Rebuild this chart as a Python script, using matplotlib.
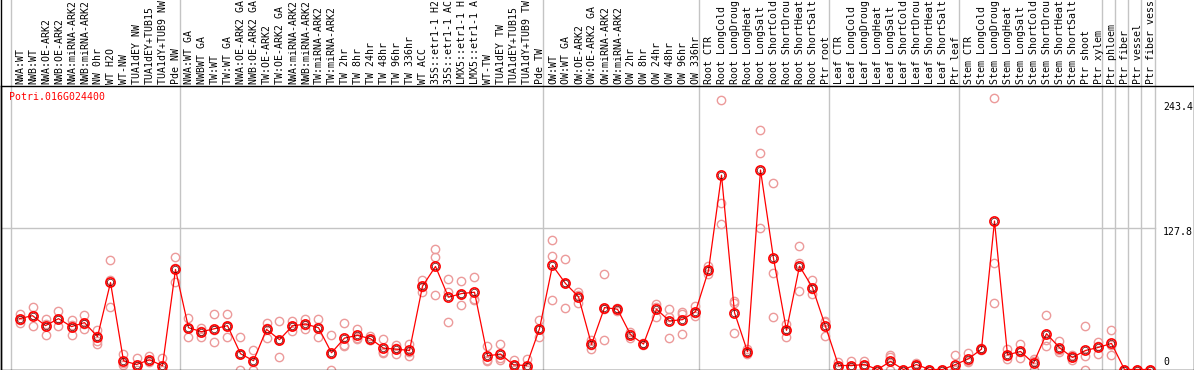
import matplotlib
matplotlib.use('Agg')
import matplotlib.pyplot as plt
from matplotlib import transforms

# ---------------- data ----------------
title = "Potri.016G024400"

labels_nw = ["NWA:WT", "NWB:WT", "NWA:OE-ARK2", "NWB:OE-ARK2", "NWA:miRNA-ARK2",
             "NWB:miRNA-ARK2", "NW 0hr", "WT H2O", "WT-NW", "TUA1dEY NW",
             "TUA1dEY+TUB15 NW", "TUA1dY+TUB9 NW", "Pde NW"]
labels_tw = ["NWA:WT GA", "NWBWT GA", "TW:WT", "TW:WT GA", "NWA:OE-ARK2 GA",
             "NWB:OE-ARK2 GA", "TW:OE-ARK2", "TW:OE-ARK2 GA", "NWA:miRNA-ARK2 GA",
             "NWB:miRNA-ARK2 GA", "TW:miRNA-ARK2", "TW:miRNA-ARK2 GA", "TW 2hr",
             "TW 8hr", "TW 24hr", "TW 48hr", "TW 96hr", "TW 336hr", "WT ACC",
             "35S::etr1-1 H2O", "35S::etr1-1 ACC", "LMX5::etr1-1 H2O",
             "LMX5::etr1-1 ACC", "WT-TW", "TUA1dEY TW", "TUA1dEY+TUB15 TW",
             "TUA1dY+TUB9 TW", "Pde TW"]
labels_ow = ["OW:WT", "OW:WT GA", "OW:OE-ARK2", "OW:OE-ARK2 GA", "OW:miRNA-ARK2",
             "OW:miRNA-ARK2 GA", "OW 2hr", "OW 8hr", "OW 24hr", "OW 48hr",
             "OW 96hr", "OW 336hr"]
labels_root = ["Root CTR", "Root LongCold", "Root LongDrought", "Root LongHeat",
               "Root LongSalt", "Root ShortCold", "Root ShortDrought",
               "Root ShortHeat", "Root ShortSalt", "Ptr root"]
labels_leaf = ["Leaf CTR", "Leaf LongCold", "Leaf LongDrought", "Leaf LongHeat",
               "Leaf LongSalt", "Leaf ShortCold", "Leaf ShortDrought",
               "Leaf ShortHeat", "Leaf ShortSalt", "Ptr leaf"]
labels_stem = ["Stem CTR", "Stem LongCold", "Stem LongDrought", "Stem LongHeat",
               "Stem LongSalt", "Stem ShortCold", "Stem ShortDrought",
               "Stem ShortHeat", "Stem ShortSalt", "Ptr shoot", "Ptr xylem"]
labels_ptr = ["Ptr phloem", "Ptr fiber", "Ptr vessel", "Ptr fiber vessel"]

means_nw = [46.0, 48.7, 39.7, 46.0, 38.8, 42.4, 29.7, 78.7, 7.9, 4.5, 8.8, 3.4, 90.5]
means_tw = [37.8, 34.2, 36.9, 39.7, 14.3, 7.9, 36.3, 27.0, 39.5, 41.1, 37.8, 15.1,
            28.4, 30.9, 27.8, 19.3, 18.4, 17.2, 75.3, 93.2, 65.4, 68.7, 69.9, 12.4,
            13.9, 4.2, 3.6, 36.9]
means_ow = [94.1, 77.8, 65.8, 22.7, 56.0, 54.5, 31.5, 23.0, 54.5, 43.9, 45.1, 52.4]
means_root = [89.6, 175.8, 51.5, 16.1, 180.4, 100.5, 35.4, 93.5, 74.1, 39.0]
means_leaf = [3.6, 3.6, 4.5, 0.0, 7.3, 0.0, 4.5, 0.0, 0.0, 4.5]
means_stem = [9.7, 18.4, 134.3, 13.3, 16.3, 5.7, 32.4, 19.7, 10.9, 17.2, 20.0]
means_ptr = [23.6, 0.0, 0.0, 0.0]

reps_nw = [[50.5, 45.1, 42.4], [56.9, 49.5, 39.7], [46.0, 41.6, 31.5], [52.6, 46.1, 39.3],
           [44.5, 40.4, 31.5], [49.0, 41.6, 36.6], [35.3, 30.0, 26.2, 23.2],
           [98.7, 80.5, 56.9], [13.6, 5.6, 4.5], [10.0, 3.5, 0.0], [11.8, 8.0, 6.6],
           [10.2, 0.0, 0.0], [101.4, 91.4, 78.7]]
reps_tw = [[46.9, 37.2, 29.3], [37.8, 35.1, 29.7], [50.5, 35.7, 24.5], [50.5, 39.3, 29.3],
           [29.3, 13.6, 0.0], [17.2, 6.5, 0.0], [42.4, 37.7, 28.8], [43.6, 26.5, 10.9],
           [44.0, 39.5, 34.6], [45.7, 40.7, 36.9], [45.7, 38.4, 29.3], [31.5, 13.8, 0.0],
           [41.8, 22.1, 21.3], [36.6, 28.2, 27.9], [30.0, 27.0, 26.4], [27.2, 15.7, 15.0],
           [21.8, 19.1, 14.3], [23.3, 16.2, 12.1], [81.4, 74.3, 70.2], [108.9, 101.4, 67.8],
           [82.3, 70.2, 42.7], [79.9, 68.1, 58.1], [83.5, 63.6, 62.6], [20.9, 9.0, 7.3],
           [22.7, 10.8, 8.2], [8.2, 4.4, 0.0], [9.7, 1.1, 0.0], [44.5, 36.9, 29.3]]
reps_ow = [[117.1, 102.3, 62.6], [99.6, 77.8, 56.0], [70.2, 67.5, 60.1], [27.0, 22.3, 18.8],
           [86.0, 55.0, 27.0], [56.0, 54.5, 53.0], [33.6, 32.1, 28.8], [24.0, 23.0, 22.0],
           [59.6, 56.4, 47.5], [55.1, 47.8, 28.8], [52.4, 50.5, 32.4], [57.5, 51.0, 48.7]]
reps_root = [[93.5, 89.3, 86.0], [243.9, 151.0, 131.4], [62.0, 60.2, 33.3],
             [18.4, 15.6, 14.3], [216.7, 196.1, 127.7], [168.5, 87.1, 47.8],
             [41.5, 35.4, 29.3], [111.4, 96.5, 71.4], [80.8, 72.8, 68.7], [43.8, 42.6, 30.6]]
reps_leaf = [[6.6, 2.2, 2.0], [7.5, 2.0, 1.3], [7.5, 4.5, 1.5], [0.0, 0.0, 0.0],
             [12.7, 10.9, 0.0], [0.0, 0.0, 0.0], [6.0, 4.5, 3.0], [0.0, 0.0, 0.0],
             [0.0, 0.0, 0.0], [13.3, 0.2, 0.0]]
reps_stem = [[14.5, 7.5, 7.1], [19.5, 18.4, 17.3], [245.7, 96.2, 60.5], [18.4, 12.2, 9.3],
             [22.7, 15.6, 10.6], [9.7, 7.4, 0.0], [49.6, 26.3, 20.9], [25.7, 17.2, 16.2],
             [12.7, 11.2, 8.8], [39.7, 12.1, 0.0], [24.5, 21.2, 14.3]]
reps_ptr = [[35.4, 22.1, 13.3], [0.0, 0.0, 0.0], [0.0, 0.0, 0.0], [0.0, 0.0, 0.0]]

ytick_values = [0, 127.8, 243.4]
ytick_labels = ["0", "127.8", "243.4"]
label_max_chars = 14   # the reference shows at most 14 characters per label

# ---------------- assemble ----------------
groups = [labels_nw, labels_tw, labels_ow, labels_root, labels_leaf, labels_stem]
labels = sum(groups, []) + labels_ptr
means = means_nw + means_tw + means_ow + means_root + means_leaf + means_stem + means_ptr
reps = reps_nw + reps_tw + reps_ow + reps_root + reps_leaf + reps_stem + reps_ptr
n = len(labels)
xs = list(range(n))

group_starts = []
s = 0
for g in groups:
    group_starts.append(s)
    s += len(g)
group_starts += [s + k for k in range(len(labels_ptr))]

# ---------------- layout (pixel based) ----------------
W, H = 1194, 370
fig = plt.figure(figsize=(W / 100, H / 100), dpi=100)
ax_l, ax_r, ax_t, ax_b = 0.5, 1193.5, 85.5, 369.5
ax = fig.add_axes([ax_l / W, 1 - ax_b / H, (ax_r - ax_l) / W, (ax_b - ax_t) / H])
cw = 13.0           # px per category
c0 = 19.5           # px centre of first category
ppu = 1.1056        # px per unit
ax.set_xlim((ax_l - c0) / cw, (ax_r - c0) / cw)
ax.set_ylim(0, (ax_b - ax_t) / ppu)
ax.set_xticks([])
ax.set_yticks([])
for sp in ax.spines.values():
    sp.set_linewidth(1.0)
    sp.set_color('black')

mono = 'DejaVu Sans Mono'
fs = 7.1
grid_c = '#c4c4c4'
top_frac = ax_b / (ax_b - ax_t)
xt = ax.get_xaxis_transform()

# vertical separators
vlines = [g - 9.0 / cw for g in group_starts] + [n - 1 + 4.3 / cw]
for xv in vlines:
    ax.plot([xv, xv], [0, top_frac], transform=xt, color=grid_c, lw=1.0,
            clip_on=False, zorder=0.5)
# horizontal grid at middle tick
ax.plot([(ax_l - c0) / cw, vlines[-1]], [ytick_values[1]] * 2, color=grid_c, lw=1.0,
        zorder=0.5)

# left border across full height
fig.add_artist(plt.Line2D([0.5 / W, 0.5 / W], [0, 1], color='black', lw=1.0))

# category labels
lab_tr = transforms.offset_copy(xt, fig=fig, x=0.5, y=1.5, units='dots')
for x, lab in zip(xs, labels):
    ax.text(x, 1.0, lab[:label_max_chars].rstrip(), transform=lab_tr, rotation=90,
            ha='center', va='bottom', fontsize=fs, family=mono, color='black',
            clip_on=False)

# replicate points
for x, r in zip(xs, reps):
    ax.plot([x] * len(r), r, 'o', mfc='none', mec='#ec9a9a', ms=6.0, mew=1.0,
            zorder=2)
# mean line and points
ax.plot(xs, means, '-', color='red', lw=0.9, zorder=3)
ax.plot(xs, means, 'o', mfc='none', mec='red', ms=6.6, mew=1.2, zorder=4)
ax.plot(xs, means, 'o', mfc='none', mec='#600000', ms=4.6, mew=0.5, zorder=4)

# title
fig.text(9 / W, 1 - 97 / H, title, color='red', fontsize=fs, family=mono,
         ha='left', va='center')

# y labels on the right
ylab_pos = {"0": 362.0, "127.8": 232.0, "243.4": 107.3}
for v, t in zip(ytick_values, ytick_labels):
    fig.text(1163 / W, 1 - ylab_pos[t] / H, t, color='black', fontsize=fs,
             family=mono, ha='left', va='center')

fig.savefig('out.png', dpi=100)
